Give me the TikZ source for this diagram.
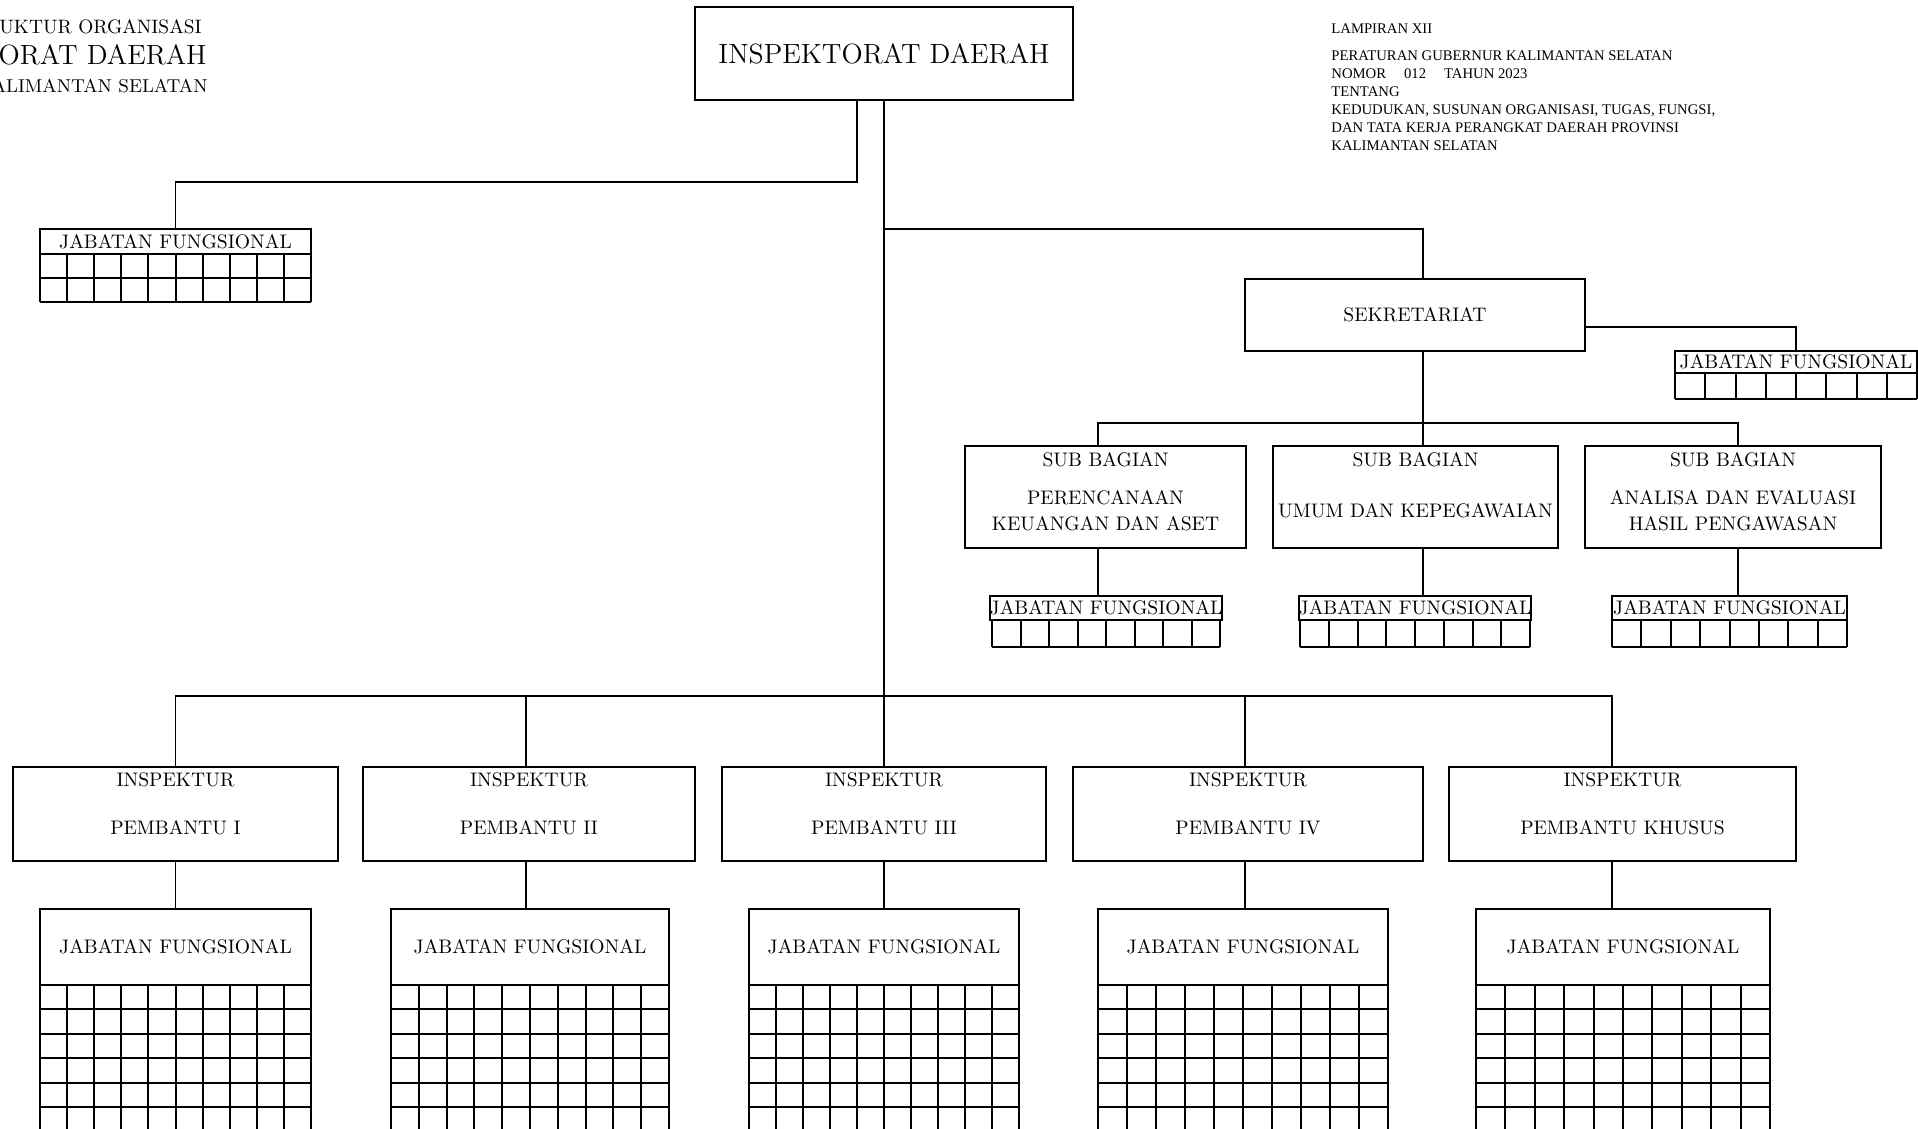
\documentclass[tikz,border=0pt]{standalone}
\usepackage{fontspec}
\newfontfamily\kecil{Liberation Serif}
\usetikzlibrary{positioning}

\begin{document}
\begin{tikzpicture}[x=0.5pt,y=-0.5pt]
    \tikzstyle{box} = [rectangle, draw, line width=1pt, inner sep=0pt,
               font=\fontsize{9.8}{13}\selectfont, align=center]
    \tikzstyle{txt} = [inner sep=0pt, font=\fontsize{9.8}{13}\selectfont, align=center]
    \tikzstyle{line} = [draw, line width=0.9pt]
    \tikzstyle{cell} = [draw, line width=1pt]

    \useasboundingbox (0,0) rectangle (1918,1129);
    \clip (0,0) rectangle (1918,1129);

    % Title and heading
    \node[txt, anchor=east, font=\fontsize{9.7}{12}\selectfont] (judul1) at (202,27) {UKTUR ORGANISASI};
    \node[txt, anchor=east, font=\fontsize{13.9}{15}\selectfont] (judul2) at (207,55) {ORAT DAERAH};
    \node[txt, anchor=east, font=\fontsize{9.3}{12}\selectfont] (judul3) at (208,86) {ALIMANTAN SELATAN};

    \node[txt, anchor=north west, align=left, font=\kecil\fontsize{7.35}{9.05}\selectfont] (lampiran) at (1331,23)
    {LAMPIRAN XII\\[4.5pt]
     PERATURAN GUBERNUR KALIMANTAN SELATAN\\
     NOMOR\hspace{9pt}012\hspace{9pt}TAHUN 2023\\
     TENTANG\\
     KEDUDUKAN, SUSUNAN ORGANISASI, TUGAS, FUNGSI,\\
     DAN TATA KERJA PERANGKAT DAERAH PROVINSI\\
     KALIMANTAN SELATAN};

    % Define boxes
    \node[box, font=\fontsize{13.9}{15}\selectfont, minimum width=189pt, minimum height=46.5pt]
      (inspektorat) at (884,53.5) {INSPEKTORAT DAERAH};
    \node[box, minimum width=170pt, minimum height=36pt] (sekretariat) at (1415,315) {SEKRETARIAT};

    \foreach \n/\px/\w/\isi in {sb1/1105.5/140.5/{PERENCANAAN\\KEUANGAN DAN ASET},
                               sb2/1415.5/142.5/{UMUM DAN KEPEGAWAIAN},
                               sb3/1733/148/{ANALISA DAN EVALUASI\\HASIL PENGAWASAN}} {
        \node[box, minimum width=\w pt, minimum height=51pt] (\n) at (\px,497) {};
        \node[txt, below=3.5pt of \n.north] (\n-a) {SUB BAGIAN};
        \node[txt] (\n-b) at ([yshift=-7pt]\n.center) {\isi};
    }

    \foreach \n/\xa/\xb/\isi in {ip1/13/338/I, ip2/363/695/II, ip3/722/1046/III,
                                ip4/1073/1423/IV, ipk/1449/1796/KHUSUS} {
        \node[box, minimum width={(\xb-\xa)*0.5pt}, minimum height=47pt] (\n) at ({(\xa+\xb)/2},814) {};
        \node[txt, below=3pt of \n.north] (\n-a) {INSPEKTUR};
        \node[txt] (\n-b) at ([yshift=-7pt]\n.center) {PEMBANTU \isi};
    }

    % jabatan fungsional with cells
    \foreach \n/\xa/\xb/\ya/\yh/\h/\nr/\nc in {
        jfa/40/311/229/254/24/2/10,
        jfr/1675/1917/351/373/26/1/8,
        jfs1/992/1220/596/620/27/1/8,
        jfs2/1300/1530/596/620/27/1/8,
        jfs3/1612/1847/596/620/27/1/8,
        jf1/40/311/909/985/24.4/7/10,
        jf2/391/669/909/985/24.4/7/10,
        jf3/749/1019/909/985/24.4/7/10,
        jf4/1098/1388/909/985/24.4/7/10,
        jf5/1476/1770/909/985/24.4/7/10} {
        \node[box, minimum width={(\xb-\xa)*0.5pt}, minimum height={(\yh-\ya)*0.5pt}]
          (\n) at ({(\xa+\xb)/2},{(\ya+\yh)/2}) {JABATAN FUNGSIONAL};
        \foreach \i in {1,...,\nr}
            \draw[cell] (\xa,{\yh+\i*\h}) -- (\xb,{\yh+\i*\h});
        \foreach \j in {0,...,\nc}
            \draw[cell] ({\xa+\j*(\xb-\xa)/\nc},\yh) -- ({\xa+\j*(\xb-\xa)/\nc},{\yh+\nr*\h});
    }

    % Connectors
    \coordinate (kiri) at (857,182);
    \coordinate (kanan) at (884,229);
    \coordinate (bawah) at (884,696);
    \coordinate (sbbus) at (1423,423);
    \coordinate (xsb1) at (1098,0);
    \coordinate (xsek) at (1423,0);
    \coordinate (xsb3) at (1738,0);
    \coordinate (xip2) at (526,0);
    \coordinate (xip4) at (1245,0);
    \coordinate (xipk) at (1612,0);

    \draw[line] (inspektorat.south) -- (ip3.north);
    \draw[line] (inspektorat.south -| kiri) -- (kiri) -| (jfa.north);
    \draw[line] (kanan) -| (sekretariat.north -| xsek);
    \draw[line] ([yshift=-6pt]sekretariat.east) -| (jfr.north);
    \draw[line] (sekretariat.south -| xsek) -- (sb2.north -| xsek);
    \draw[line] (sb1.north -| xsb1) |- (sbbus) -| (sb3.north -| xsb3);
    \draw[line] (ip1.north) |- (bawah) -| (ipk.north -| xipk);
    \draw[line] (ip2.north -| xip2) -- (bawah -| xip2);
    \draw[line] (ip4.north -| xip4) -- (bawah -| xip4);
    \foreach \a/\b/\c in {sb1/jfs1/xsb1, sb2/jfs2/xsek, sb3/jfs3/xsb3, ip2/jf2/xip2, ip4/jf4/xip4, ipk/jf5/xipk}
        \draw[line] (\a.south -| \c) -- (\b.north -| \c);
    \foreach \a/\b in {ip1/jf1, ip3/jf3}
        \draw[line] (\a.south) -- (\a.south |- \b.north);

\end{tikzpicture}
\end{document}
